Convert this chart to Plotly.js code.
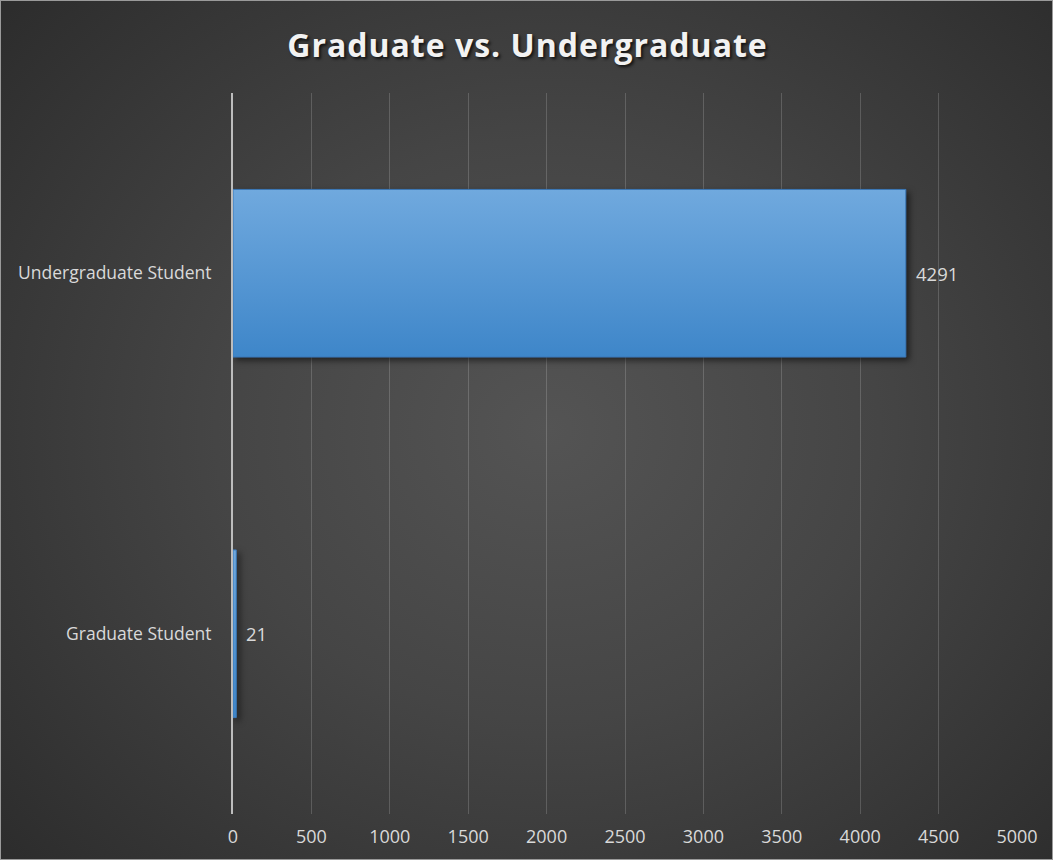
<!DOCTYPE html>
<html>
<head>
<meta charset="utf-8">
<script src="https://cdn.plot.ly/plotly-3.0.1.min.js"></script>
<style>
  html, body { margin: 0; padding: 0; }
  body {
    width: 1053px; height: 860px; overflow: hidden;
    background: radial-gradient(ellipse 70% 75% at 52% 50%, #545454 0%, #454545 45%, #2c2c2c 100%);
  }
  #chart { width: 1053px; height: 860px; box-sizing: border-box; border: 1px solid #9a9a9a; }
  #chart .gtitle { letter-spacing: 1px; }
  #chart .bars .point path { filter: drop-shadow(3px 3px 3px rgba(0,0,0,0.55)); }
</style>
</head>
<body>
<svg width="0" height="0" style="position:absolute">
  <defs>
    <linearGradient id="barGrad" x1="0" y1="0" x2="0" y2="1">
      <stop offset="0%" stop-color="#70a9de"/>
      <stop offset="100%" stop-color="#3e86c9"/>
    </linearGradient>
  </defs>
</svg>
<div id="chart"></div>
<script>
const categories = ['Graduate Student', 'Undergraduate Student'];
const counts = [21, 4291];
const xTicks = [0, 500, 1000, 1500, 2000, 2500, 3000, 3500, 4000, 4500, 5000];
const chartTitle = 'Graduate vs. Undergraduate';

const labelFont = { family: 'Open Sans, sans-serif', size: 17.5, color: '#d9d9d9' };

const trace = {
  type: 'bar',
  orientation: 'h',
  x: counts,
  y: categories,
  marker: { color: '#5a9ad9', line: { color: '#3b78b8', width: 1 } },
  hoverinfo: 'x+y'
};

const annotations = counts.map((v, i) => ({
  x: v, y: categories[i], xref: 'x', yref: 'y',
  text: String(v), showarrow: false, xanchor: 'left', xshift: 8,
  font: { family: 'Open Sans, sans-serif', size: 18.5, color: '#d9d9d9' }
}));

const layout = {
  width: 1053, height: 860,
  margin: { l: 232, r: 37, t: 92, b: 47 },
  paper_bgcolor: 'rgba(0,0,0,0)',
  plot_bgcolor: 'rgba(0,0,0,0)',
  title: {
    text: chartTitle,
    x: 0.5, xanchor: 'center', y: 0.948, yanchor: 'middle',
    font: { family: 'Open Sans, sans-serif', size: 32, color: '#f2f2f2', weight: 700,
            shadow: '2px 2px 3px rgba(0,0,0,0.7)' }
  },
  bargap: 0.535,
  showlegend: false,
  xaxis: {
    range: [0, 5000],
    tickvals: xTicks,
    ticktext: xTicks.map(String),
    showgrid: true,
    gridcolor: 'rgba(255,255,255,0.17)',
    gridwidth: 1,
    zeroline: false,
    showline: false,
    ticks: '',
    tickfont: { family: 'Open Sans, sans-serif', size: 18, color: '#d9d9d9' },
    ticklabelstandoff: 10,
    fixedrange: true
  },
  yaxis: {
    type: 'category',
    range: [-0.5, 1.5],
    showgrid: false,
    showline: true,
    linecolor: '#bdbdbd',
    linewidth: 2,
    ticks: '',
    tickfont: labelFont,
    ticklabelstandoff: 16,
    fixedrange: true
  },
  annotations: annotations
};

Plotly.newPlot('chart', [trace], layout, { displayModeBar: false, staticPlot: true }).then(gd => {
  gd.querySelectorAll('.bars .point path').forEach(p => {
    p.style.fill = 'url(#barGrad)';
  });
});
</script>
</body>
</html>
